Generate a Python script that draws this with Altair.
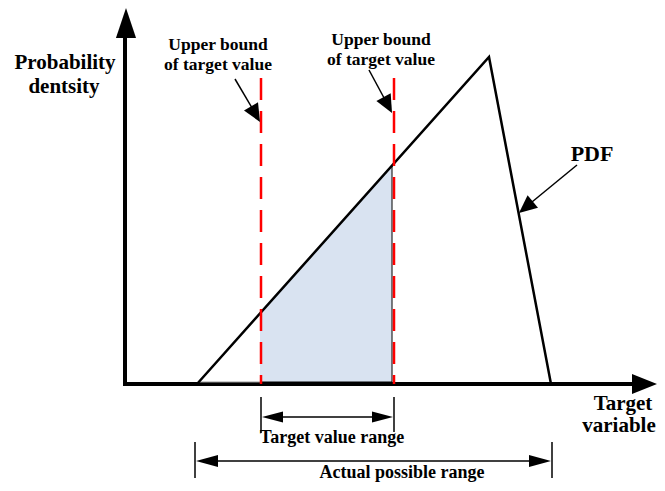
import altair as alt
import pandas as pd

# ---- diagram data (schematic coordinates: x to the right, y downwards) ----
# PDF triangle
pdf_x = [197, 489, 551]
pdf_y = [384, 57, 384]

# shaded region (probability within the target range)
shade_x = [260, 392]
shade_top = [313, 166]
shade_base = [382, 382]

# red dashed bounds
bound_x = [261, 394]
bound_top = [78, 78]
bound_bottom = [384, 384]

# black segments: x1, y1, x2, y2, stroke width, colour
seg_x1 = [125, 123, 392, 260, 261, 394, 195, 552, 266, 200, 235, 369, 577, 199, 199]
seg_y1 = [386, 384, 166, 382, 397, 397, 442, 442, 417, 461, 79, 70, 165, 382, 382]
seg_x2 = [125, 636, 392, 392, 261, 394, 195, 552, 389, 547, 258, 390, 521, 259, 260]
seg_y2 = [30, 384, 383, 382, 433, 432, 478, 478, 417, 461, 118, 109, 211, 314, 382]
seg_w = [4, 4, 1, 1, 1.5, 1.5, 1.5, 1.5, 1.5, 1.5, 1.5, 1.5, 1.5, 1, 1]
seg_c = ["#000000"] * 13 + ["#9a9a9a", "#9a9a9a"]

# arrow heads: tip position, direction (deg, clockwise), length, half-width ratio
head_x = [126, 657, 260, 392, 519, 262, 393, 196, 551]
head_y = [8, 384, 122, 113, 213, 417, 417, 461, 461]
head_angle = [270, 0, 60, 62, 140, 180, 0, 180, 0]
head_len = [30, 25, 18, 18, 18, 21, 21, 22, 22]
head_ratio = [0.67, 0.8, 0.9, 0.9, 0.9, 0.52, 0.52, 0.55, 0.55]

# labels
label_text = ["Probability", "dentsity", "Upper bound", "of target value",
              "Upper bound", "of target value", "PDF", "Target", "variable",
              "Target value range", "Actual possible range"]
label_x = [65, 64, 218, 218, 381, 381, 592, 623, 619, 332, 402]
label_y = [69, 93, 50, 70, 45, 65, 161, 410, 432, 443, 478]
label_size = [21, 21, 17.5, 17.5, 17.5, 17.5, 22, 21, 21, 18, 18]

# ---- build chart ----
W, H = 649, 474
xs = alt.Scale(domain=[8, 8 + W])
ys = alt.Scale(domain=[8, 8 + H], reverse=True)


def X(f):
    return alt.X(f, type="quantitative", scale=xs, axis=None)


def Y(f):
    return alt.Y(f, type="quantitative", scale=ys, axis=None)


shade_df = pd.DataFrame({"x": shade_x, "top": shade_top, "base": shade_base})
shade = alt.Chart(shade_df).mark_area(color="#d9e3f1", opacity=1).encode(
    x=X("x"), y=Y("top"), y2="base"
)

seg_df = pd.DataFrame({"x": seg_x1, "y": seg_y1, "x2": seg_x2, "y2": seg_y2,
                       "w": seg_w, "c": seg_c})
segs = alt.Chart(seg_df).mark_rule(strokeCap="butt").encode(
    x=X("x"), y=Y("y"), x2="x2", y2="y2",
    strokeWidth=alt.StrokeWidth("w:Q", scale=None),
    color=alt.Color("c:N", scale=None),
)

pdf_df = pd.DataFrame({"x": pdf_x, "y": pdf_y, "o": list(range(len(pdf_x)))})
pdf = alt.Chart(pdf_df).mark_line(color="black", strokeWidth=2.5,
                                  strokeJoin="miter").encode(
    x=X("x"), y=Y("y"), order="o:Q"
)

bound_df = pd.DataFrame({"x": bound_x, "y": bound_top, "y2": bound_bottom})
bounds = alt.Chart(bound_df).mark_rule(color="#ff0000", strokeWidth=2.5,
                                       strokeDash=[22, 11]).encode(
    x=X("x"), y=Y("y"), y2="y2"
)

head_df = pd.DataFrame({
    "x": head_x, "y": head_y, "angle": head_angle,
    "size": [l * l for l in head_len],
    "shape": [f"M0,0L-2,-{r}L-2,{r}Z" for r in head_ratio],
})
heads = alt.Chart(head_df).mark_point(filled=True, color="black", opacity=1,
                                      strokeWidth=0).encode(
    x=X("x"), y=Y("y"),
    angle=alt.Angle("angle:Q", scale=None),
    size=alt.Size("size:Q", scale=None),
    shape=alt.Shape("shape:N", scale=None),
)

lab_df = pd.DataFrame({"t": label_text, "x": label_x, "y": label_y,
                       "s": label_size})
labels = alt.Chart(lab_df).mark_text(font="Liberation Serif", fontWeight="bold",
                                     align="center", baseline="alphabetic",
                                     color="black").encode(
    x=X("x"), y=Y("y"), text="t:N",
    size=alt.Size("s:Q", scale=None),
)

chart = alt.layer(shade, segs, pdf, bounds, heads, labels).properties(
    width=W, height=H, padding=0, autosize=alt.AutoSizeParams(type="none")
).configure_view(stroke=None)

chart.save("out.html", embed_options={"renderer": "svg", "actions": False})
